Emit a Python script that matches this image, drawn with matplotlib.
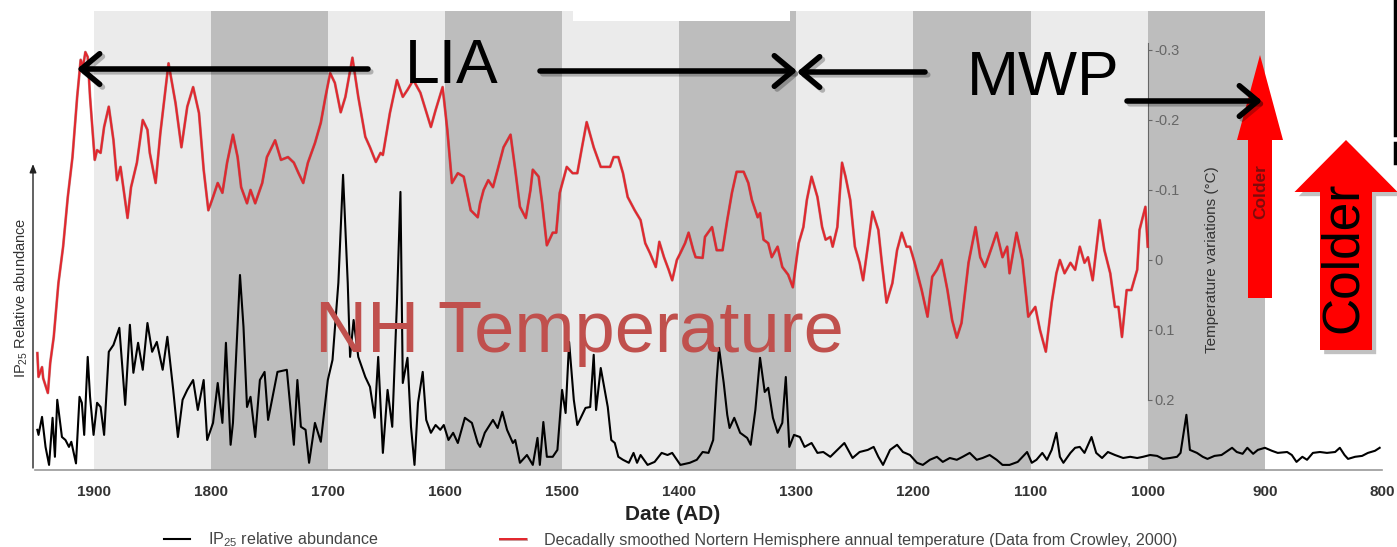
import matplotlib
matplotlib.use('Agg')
import matplotlib.pyplot as plt
from matplotlib.patches import FancyArrow
from matplotlib.lines import Line2D
import matplotlib.patheffects as pe

plt.rcParams['font.family'] = ['Liberation Sans', 'DejaVu Sans']
plt.rcParams['mathtext.default'] = 'regular'
plt.rcParams['axes.unicode_minus'] = False

# decadally smoothed NH temperature (Crowley 2000)
temp_year = [1948, 1947, 1944, 1943, 1939, 1937, 1934, 1930, 1926, 1922, 1918, 1914,
             1911, 1909, 1907, 1905, 1903, 1899, 1897, 1894, 1891, 1887, 1883, 1880,
             1877, 1874, 1871, 1868, 1863, 1858, 1854, 1852, 1847, 1843, 1836, 1830,
             1825, 1820, 1815, 1810, 1806, 1802, 1798, 1794, 1790, 1786, 1781, 1777,
             1774, 1769, 1766, 1762, 1756, 1752, 1745, 1740, 1734, 1729, 1725, 1721,
             1717, 1711, 1706, 1702, 1698, 1694, 1689, 1685, 1679, 1674, 1668, 1664,
             1659, 1655, 1653, 1647, 1641, 1636, 1632, 1627, 1621, 1612, 1608, 1602,
             1598, 1594, 1589, 1584, 1578, 1572, 1570, 1567, 1563, 1559, 1555, 1550,
             1544, 1540, 1536, 1531, 1527, 1525, 1520, 1517, 1513, 1508, 1505, 1502,
             1496, 1491, 1487, 1483, 1479, 1473, 1467, 1459, 1456, 1452, 1448, 1444,
             1438, 1433, 1429, 1425, 1420, 1417, 1413, 1409, 1406, 1402, 1399, 1395,
             1392, 1388, 1386, 1380, 1378, 1372, 1368, 1363, 1359, 1355, 1351, 1345,
             1341, 1338, 1333, 1331, 1328, 1324, 1321, 1316, 1312, 1307, 1303, 1298,
             1294, 1291, 1287, 1282, 1278, 1275, 1271, 1269, 1265, 1261, 1258, 1254,
             1250, 1246, 1243, 1239, 1235, 1230, 1227, 1223, 1218, 1214, 1210, 1206,
             1203, 1199, 1193, 1188, 1184, 1180, 1176, 1171, 1167, 1163, 1159, 1153,
             1147, 1143, 1139, 1133, 1129, 1124, 1120, 1118, 1112, 1107, 1102, 1096,
             1092, 1087, 1082, 1078, 1075, 1071, 1066, 1062, 1058, 1054, 1051, 1047,
             1041, 1037, 1032, 1028, 1025, 1022, 1018, 1014, 1009, 1007, 1002, 1000]
temp_anom = [0.133, 0.167, 0.153, 0.169, 0.190, 0.147, 0.110, 0.033, -0.019, -0.090, -0.147, -0.233,
             -0.286, -0.276, -0.297, -0.290, -0.233, -0.143, -0.157, -0.153, -0.190, -0.219, -0.171, -0.114,
             -0.133, -0.096, -0.060, -0.104, -0.139, -0.200, -0.186, -0.153, -0.110, -0.181, -0.281, -0.224,
             -0.161, -0.219, -0.247, -0.210, -0.129, -0.071, -0.090, -0.110, -0.096, -0.139, -0.179, -0.147,
             -0.104, -0.081, -0.100, -0.081, -0.110, -0.147, -0.171, -0.143, -0.147, -0.139, -0.124, -0.110,
             -0.139, -0.167, -0.196, -0.233, -0.267, -0.253, -0.211, -0.233, -0.289, -0.233, -0.176, -0.161,
             -0.140, -0.153, -0.150, -0.210, -0.257, -0.233, -0.243, -0.257, -0.239, -0.190, -0.214, -0.247,
             -0.186, -0.110, -0.124, -0.119, -0.071, -0.061, -0.081, -0.100, -0.114, -0.104, -0.129, -0.161,
             -0.179, -0.129, -0.076, -0.060, -0.100, -0.129, -0.119, -0.081, -0.021, -0.039, -0.039, -0.096,
             -0.133, -0.124, -0.124, -0.161, -0.197, -0.161, -0.133, -0.133, -0.147, -0.147, -0.124, -0.090,
             -0.071, -0.057, -0.024, -0.010, 0.010, -0.026, -0.004, 0.014, 0.029, 0.000, -0.010, -0.024,
             -0.039, -0.014, -0.004, -0.003, -0.033, -0.047, -0.014, -0.014, -0.057, -0.096, -0.126, -0.126,
             -0.110, -0.086, -0.061, -0.067, -0.029, -0.024, -0.004, -0.019, 0.010, 0.021, 0.039, -0.024,
             -0.047, -0.086, -0.119, -0.090, -0.047, -0.029, -0.033, -0.019, -0.047, -0.139, -0.119, -0.086,
             -0.019, 0.004, 0.029, -0.019, -0.069, -0.043, 0.004, 0.061, 0.033, -0.014, -0.039, -0.019,
             -0.019, 0.004, 0.043, 0.081, 0.024, 0.014, 0.000, 0.043, 0.086, 0.111, 0.090, 0.004,
             -0.047, -0.004, 0.010, -0.019, -0.039, -0.004, -0.019, 0.019, -0.039, 0.000, 0.081, 0.067,
             0.100, 0.131, 0.061, 0.019, 0.000, 0.019, 0.004, 0.014, -0.019, 0.004, -0.004, 0.029,
             -0.057, -0.014, 0.019, 0.067, 0.067, 0.110, 0.043, 0.043, 0.014, -0.043, -0.076, -0.019]

# IP25 relative abundance (arbitrary units)
ip_year = [1948, 1947, 1944, 1941, 1938, 1935, 1933, 1931, 1927, 1924, 1921, 1919,
           1915, 1912, 1910, 1908, 1905, 1903, 1900, 1897, 1894, 1891, 1887, 1883,
           1878, 1873, 1869, 1866, 1862, 1858, 1854, 1850, 1846, 1841, 1837, 1832,
           1828, 1824, 1820, 1815, 1811, 1806, 1803, 1798, 1794, 1790, 1787, 1783,
           1781, 1775, 1772, 1769, 1766, 1762, 1758, 1754, 1751, 1746, 1743, 1735,
           1729, 1726, 1723, 1719, 1716, 1711, 1706, 1700, 1696, 1691, 1687, 1683,
           1681, 1678, 1674, 1668, 1664, 1660, 1657, 1653, 1649, 1645, 1641, 1638,
           1636, 1632, 1629, 1626, 1623, 1619, 1616, 1612, 1608, 1604, 1601, 1597,
           1593, 1589, 1583, 1577, 1572, 1570, 1566, 1559, 1555, 1551, 1547, 1542,
           1540, 1536, 1530, 1525, 1521, 1519, 1516, 1513, 1508, 1504, 1500, 1497,
           1494, 1490, 1487, 1480, 1476, 1473, 1471, 1467, 1461, 1458, 1455, 1452,
           1448, 1443, 1439, 1436, 1433, 1427, 1421, 1415, 1410, 1406, 1399, 1391,
           1385, 1380, 1375, 1371, 1368, 1366, 1362, 1359, 1357, 1353, 1348, 1342,
           1339, 1335, 1331, 1327, 1324, 1320, 1316, 1312, 1309, 1306, 1302, 1297,
           1293, 1287, 1282, 1277, 1271, 1265, 1259, 1252, 1246, 1239, 1234, 1230,
           1226, 1220, 1214, 1209, 1203, 1197, 1192, 1186, 1180, 1175, 1169, 1163,
           1158, 1152, 1146, 1141, 1135, 1129, 1124, 1118, 1111, 1103, 1099, 1095,
           1090, 1086, 1082, 1078, 1075, 1072, 1066, 1062, 1058, 1054, 1048, 1044,
           1039, 1034, 1028, 1021, 1015, 1009, 1004, 998, 992, 987, 981, 975,
           972, 967, 964, 958, 953, 949, 943, 937, 928, 924, 919, 915,
           910, 906, 900, 894, 889, 881, 877, 873, 868, 864, 859, 853,
           847, 840, 836, 832, 829, 823, 817, 812, 806, 802]
ip_abund = [11.7, 10.0, 16.0, 6.0, 0.0, 15.7, 2.7, 21.7, 9.3, 8.3, 6.0, 7.7,
            0.5, 22.7, 20.7, 10.0, 36.0, 22.7, 10.0, 20.7, 19.3, 10.0, 37.7, 40.0,
            45.7, 20.0, 46.7, 30.7, 40.7, 31.7, 47.3, 37.7, 41.0, 31.7, 42.7, 25.0,
            9.3, 21.7, 25.0, 28.3, 18.3, 28.3, 8.3, 14.0, 27.3, 14.0, 40.7, 6.7,
            14.0, 63.3, 46.0, 19.3, 22.7, 9.3, 28.3, 31.0, 15.0, 25.0, 31.0, 31.7,
            6.7, 28.3, 12.7, 11.7, 0.7, 14.0, 7.7, 28.3, 35.0, 60.7, 96.7, 60.7,
            36.0, 48.3, 36.0, 29.3, 26.0, 15.7, 36.0, 4.0, 25.0, 12.7, 54.0, 91.0,
            27.3, 35.7, 12.7, 0.0, 20.7, 31.0, 15.0, 10.7, 13.3, 11.7, 13.3, 8.3,
            10.7, 7.3, 15.7, 14.0, 7.3, 6.0, 10.7, 15.0, 12.3, 17.7, 11.7, 7.3,
            8.3, 0.7, 3.3, 0.0, 9.0, 0.0, 14.3, 2.7, 2.7, 5.0, 25.0, 17.3,
            41.0, 21.7, 13.3, 19.0, 19.3, 36.7, 18.3, 32.3, 19.3, 8.3, 7.3, 2.7,
            1.7, 0.7, 4.0, 0.7, 3.3, 0.0, 1.0, 4.0, 3.3, 4.0, 0.0, 0.7,
            1.7, 4.3, 4.0, 8.3, 28.3, 39.0, 27.3, 16.7, 12.3, 15.7, 10.7, 9.0,
            6.7, 18.3, 35.7, 24.3, 25.7, 15.7, 10.7, 14.0, 29.3, 6.0, 10.0, 9.3,
            6.0, 7.3, 4.0, 4.3, 2.7, 5.0, 7.3, 2.3, 4.3, 5.0, 6.0, 2.7,
            0.0, 5.0, 6.7, 4.3, 3.3, 0.7, 0.0, 1.7, 2.7, 1.0, 2.3, 1.7,
            2.7, 4.0, 1.7, 2.3, 3.3, 1.7, 0.0, 0.0, 1.0, 4.3, 0.7, 1.7,
            4.0, 1.7, 5.0, 10.7, 2.7, 0.7, 4.0, 5.7, 6.0, 4.0, 9.3, 4.0,
            2.3, 4.3, 3.3, 2.3, 2.7, 2.3, 2.7, 3.3, 3.0, 2.0, 2.3, 2.7,
            4.0, 16.7, 5.0, 4.0, 2.7, 2.0, 3.0, 3.3, 5.7, 4.3, 3.7, 5.7,
            3.7, 5.0, 5.7, 4.7, 4.0, 4.3, 3.3, 1.0, 2.7, 1.7, 4.0, 4.3,
            4.0, 4.3, 5.7, 3.3, 2.0, 2.7, 3.0, 4.0, 4.7, 5.7]

# alternating century bands
band_start = [1900, 1800, 1700, 1600, 1500, 1400, 1300, 1200, 1100, 1000]
band_end = [1800, 1700, 1600, 1500, 1400, 1300, 1200, 1100, 1000, 900]
band_shade = ['light', 'dark'] * 5

xticks = [1900, 1800, 1700, 1600, 1500, 1400, 1300, 1200, 1100, 1000, 900, 800]
temp_ticks = [-0.3, -0.2, -0.1, 0, 0.1, 0.2]
temp_ticklabels = ['-0.3', '-0.2', '-0.1', '0', '0.1', '0.2']

W, H = 1397, 547
fig = plt.figure(figsize=(W / 100, H / 100), dpi=100)
ax_l, ax_r, ax_t, ax_b = 35, 1382, 11, 470
ax = fig.add_axes([ax_l / W, 1 - ax_b / H, (ax_r - ax_l) / W, (ax_b - ax_t) / H])

shade_col = {'light': '#ebebeb', 'dark': '#bdbdbd'}
for s, e, c in zip(band_start, band_end, band_shade):
    ax.axvspan(s, e, color=shade_col[c], lw=0, zorder=0)
# white strip that cuts the top of the bands
ax.axvspan(1491, 1305, ymin=0.978, ymax=1.0, color='white', lw=0, zorder=1)

ip_line, = ax.plot(ip_year, ip_abund, color='black', lw=1.5, zorder=3)
ax.set_xlim(1950, 800)
ax.set_ylim(-1.7, 151.3)
ax.set_yticks([])
for sp in ['top', 'left', 'right']:
    ax.spines[sp].set_visible(False)
ax.spines['bottom'].set_color('#9a9a9a')
ax.spines['bottom'].set_linewidth(1.2)
ax.set_xticks(xticks)
ax.set_xticklabels([str(t) for t in xticks], fontweight='bold', fontsize=11, color='#333333')
ax.tick_params(axis='x', length=0, pad=11)
ax.set_xlabel('Date (AD)', fontweight='bold', fontsize=15, color='#222222')
ax.xaxis.set_label_coords((673 - ax_l) / (ax_r - ax_l), -0.076)

ax2 = ax.twinx()
t_line, = ax2.plot(temp_year, temp_anom, color='#e3262d', lw=1.4, zorder=4,
                   path_effects=[pe.Stroke(linewidth=2.0, foreground='#8a1a1a', alpha=0.5), pe.Normal()])
ax2.set_ylim(0.300, -0.3557)
for sp in ['top', 'left', 'bottom']:
    ax2.spines[sp].set_visible(False)
ax2.spines['right'].set_position(('data', 1000))
ax2.spines['right'].set_color('#666666')
ax2.spines['right'].set_linewidth(0.8)
ax2.spines['right'].set_bounds(-0.31, 0.2)
ax2.set_yticks(temp_ticks)
ax2.set_yticklabels(temp_ticklabels)
ax2.tick_params(axis='y', length=3, width=0.8, colors='#666666', labelsize=10.5, pad=2)
ax2.set_ylabel('Temperature variations (°C)', fontsize=11, color='#333333')
ax2.yaxis.set_label_coords((1205 - ax_l) / (ax_r - ax_l), (ax_b - 260) / (ax_b - ax_t))

fig.legend([ip_line, t_line],
           ['IP$_{25}$ relative abundance',
            'Decadally smoothed Nortern Hemisphere annual temperature (Data from Crowley, 2000)'],
           loc='center left', bbox_to_anchor=(164 / W, 1 - 540 / H), ncol=2, frameon=False,
           fontsize=11.6, labelcolor='#444444', handlelength=1.6, handletextpad=1.1,
           columnspacing=7.6, borderpad=0, borderaxespad=0)

# overlay in pixel coordinates for the annotations
ov = fig.add_axes([0, 0, 1, 1], zorder=10)
ov.set_xlim(0, W)
ov.set_ylim(H, 0)
ov.axis('off')
ov.patch.set_alpha(0)

# left axis arrow and label
ov.annotate('', xy=(33, 164), xytext=(33, 468),
            arrowprops=dict(arrowstyle='-|>,head_length=0.5,head_width=0.2', lw=1.0, color='#222222',
                            shrinkA=0, shrinkB=0))
ov.text(21, 298, 'IP$_{25}$ Relative abundance', rotation=90, ha='center', va='center',
        fontsize=10.5, color='#333333')

shadow = [pe.SimpleLineShadow(offset=(2, -2), alpha=0.25), pe.Normal()]
arrow_kw = dict(arrowstyle='->,head_length=0.6,head_width=0.5', lw=4, color='black',
                shrinkA=0, shrinkB=0, mutation_scale=22)
for x0, x1, y in [(368, 77, 69), (540, 797, 71), (925, 797, 72), (1127, 1262, 101)]:
    a = ov.annotate('', xy=(x1, y), xytext=(x0, y), arrowprops=arrow_kw)
    a.arrow_patch.set_path_effects(shadow)

ov.text(405, 83, 'LIA', fontsize=45, va='baseline', ha='left', color='black')
ov.text(967, 95, 'MWP', fontsize=45, va='baseline', ha='left', color='black')
ov.text(315, 352, 'NH Temperature', fontsize=52, va='baseline', ha='left', color='#c0504d')

# small "Colder" arrow inside the plot
ov.add_patch(FancyArrow(1260, 298, 0, -243, width=24, head_width=46, head_length=85,
                        length_includes_head=True, color='#ff0000', lw=0))
ov.text(1261, 192, 'Colder', rotation=90, ha='center', va='center', fontsize=12.5,
        fontweight='bold', color='#7d0c0c')

# big "Colder" arrow on the right
big = FancyArrow(1346, 350, 0, -210, width=52, head_width=103, head_length=52,
                 length_includes_head=True, color='#ff0000', lw=0)
big.set_path_effects([pe.SimplePatchShadow(offset=(3, -3), shadow_rgbFace='#999999', alpha=0.6),
                      pe.Normal()])
ov.add_patch(big)
ov.text(1343, 257, 'Colder', rotation=90, ha='center', va='center', fontsize=37, color='black')

# edge of a box cut off at the top right
ov.add_line(Line2D([1395, 1395], [0, 135], color='black', lw=2.5))
ov.add_line(Line2D([1395, 1395], [143, 163], color='black', lw=2.5))

fig.savefig('out.png', dpi=100)
